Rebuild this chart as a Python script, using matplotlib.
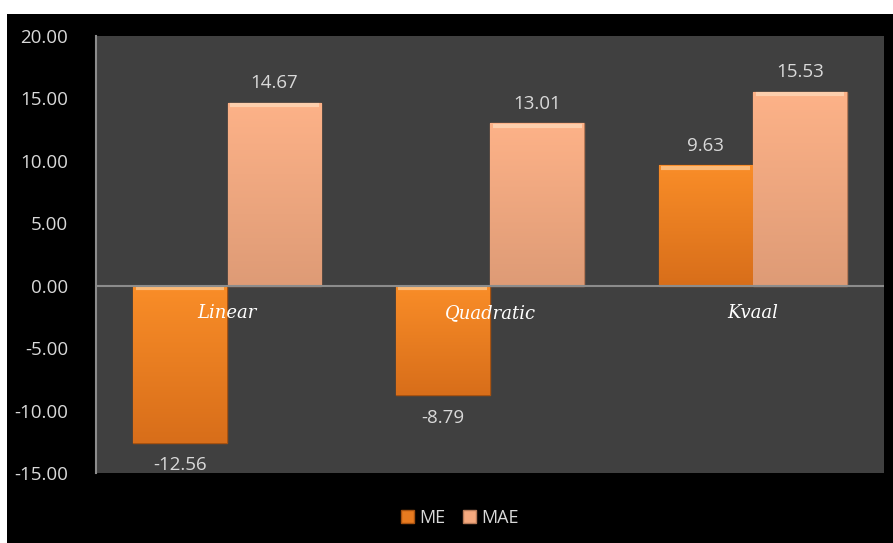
import matplotlib.pyplot as plt
import numpy as np
from matplotlib.patches import Rectangle
from matplotlib.colors import LinearSegmentedColormap

categories = ["Linear", "Quadratic", "Kvaal"]
me = [-12.56, -8.79, 9.63]
mae = [14.67, 13.01, 15.53]
yticks = [-15, -10, -5, 0, 5, 10, 15, 20]

txt = "#d9d9d9"
plt.rcParams['font.family'] = ['Open Sans', 'DejaVu Sans']

fig = plt.figure(figsize=(8.93, 5.43), dpi=100)
fig.patch.set_facecolor("white")
fig.add_artist(Rectangle((7 / 893, 0), 1, 1 - 14 / 543, transform=fig.transFigure,
                         facecolor="black", edgecolor="none", zorder=-10))

ax = fig.add_axes([96 / 893, 1 - 473 / 543, 788 / 893, 437 / 543])
ax.set_facecolor("#404040")

x = np.arange(len(categories))
w = 0.357
off = 0.18


def shade(bars, top, bottom):
    cmap = LinearSegmentedColormap.from_list("g", [bottom, top])
    for b in bars:
        x0, y0 = b.get_x(), b.get_y()
        bw, bh = b.get_width(), b.get_height()
        y_lo, y_hi = min(y0, y0 + bh), max(y0, y0 + bh)
        grad = np.linspace(0, 1, 100).reshape(-1, 1)
        im = ax.imshow(grad, extent=[x0, x0 + bw, y_lo, y_hi], origin="lower",
                       cmap=cmap, aspect="auto", zorder=2)
        im.set_clip_path(b)
        # light bevel along the top edge
        ax.plot([x0 + 0.01, x0 + bw - 0.01], [y_hi - 0.2, y_hi - 0.2],
                color="#fff4dc", alpha=0.45, lw=3, zorder=3, solid_capstyle="butt")


b1 = ax.bar(x - off, me, w, color="#e87b20", edgecolor="#a85210", lw=1.0, zorder=2, label="ME")
b2 = ax.bar(x + off, mae, w, color="#f5a97e", edgecolor="#b77a58", lw=1.0, zorder=2, label="MAE")
shade(b1, "#f98d28", "#d86e1a")
shade(b2, "#fdb288", "#de9b76")

for bars, vals in ((b1, me), (b2, mae)):
    for b, v in zip(bars, vals):
        cx = b.get_x() + b.get_width() / 2
        dy = 14 if v > 0 else -16
        ax.annotate(f"{v:.2f}", (cx, v), xytext=(0, dy), textcoords="offset points",
                    ha="center", va="center", color=txt, fontsize=13.5)

for i, c in enumerate(categories):
    ax.annotate(c, (i, 0), xytext=(0, -19.5), textcoords="offset points",
                ha="center", va="center", color="white", fontsize=13,
                family="DejaVu Serif", style="italic", zorder=5)

ax.axhline(0, color="#8c8c8c", lw=1.5, zorder=4)
ax.set_xlim(-0.5, 2.5)
ax.set_ylim(-15, 20)
ax.set_yticks(yticks)
ax.set_yticklabels([f"{t:.2f}" for t in yticks], color=txt, fontsize=13.5)
ax.tick_params(axis="y", length=0, pad=20)
ax.set_xticks([])
for s in ("top", "right", "bottom"):
    ax.spines[s].set_visible(False)
ax.spines["left"].set_color("#8c8c8c")
ax.spines["left"].set_linewidth(1.5)

leg = fig.legend(handles=[b1, b2], labels=["ME", "MAE"], loc="center",
                 bbox_to_anchor=(460 / 893, 1 - 518 / 543), ncol=2, frameon=False,
                 fontsize=13, labelcolor=txt, handlelength=0.7, handleheight=0.7,
                 handletextpad=0.3, columnspacing=1.0)

fig.savefig("out.png", dpi=100)
